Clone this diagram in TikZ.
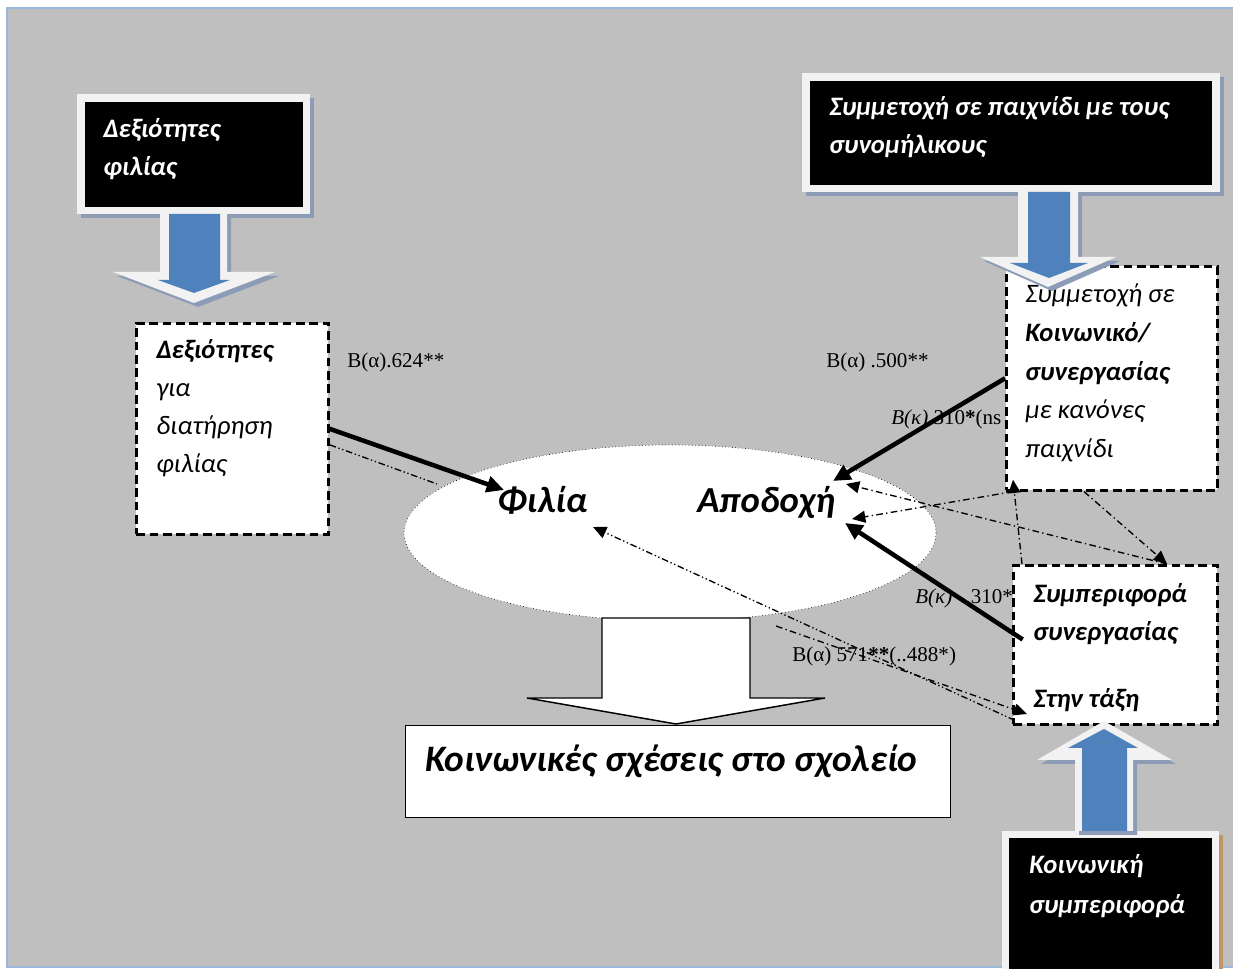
\documentclass[tikz,border=0pt]{standalone}
\usepackage{fontspec}
\setmainfont{Liberation Serif}
\newfontfamily\calib{Carlito}
\usetikzlibrary{arrows.meta,calc,shapes.geometric}
\definecolor{bggrey}{HTML}{BFBFBF}
\definecolor{frameblue}{HTML}{9BB7DB}
\definecolor{arrblue}{HTML}{4F81BD}
\definecolor{framew}{HTML}{F2F2F2}
\definecolor{shadowc}{HTML}{8D9CB6}
\definecolor{shadowbr}{HTML}{C0946A}
\tikzset{
  dbox/.style={draw=black, line width=2pt, dash pattern=on 6.5pt off 3.5pt, fill=white, inner sep=0pt, anchor=north west},
  wframe/.style={fill=framew, inner sep=0pt, anchor=north west},
  bframe/.style={fill=black, inner sep=0pt, anchor=north west},
  txt/.style={font=\calib\itshape\fontsize{20}{24}\selectfont, anchor=base west, inner sep=0pt},
  btxt/.style={font=\calib\bfseries\itshape\fontsize{20}{24}\selectfont, anchor=base west, inner sep=0pt},
  wtxt/.style={btxt, text=white},
  bigtxt/.style={font=\calib\bfseries\itshape\fontsize{27.5}{32}\selectfont, anchor=base west, inner sep=0pt},
  lab/.style={font=\fontsize{15.8}{18}\selectfont, anchor=base west, inner sep=0pt},
  strong/.style={line width=3.4pt, -{Triangle[length=13pt,width=12pt]}},
  dd/.style={line width=1pt, dash pattern=on 5pt off 2pt on 1pt off 2pt on 1pt off 2pt},
  dda/.style={dd, -{Triangle[length=10pt,width=9pt]}},
  da/.style={line width=1pt, dash pattern=on 5pt off 2.5pt on 1pt off 2.5pt, -{Triangle[length=10pt,width=9pt]}},
  blockw/.style={fill=framew},
  blockb/.style={fill=arrblue},
  blocks/.style={fill=shadowc}
}
\begin{document}
\begin{tikzpicture}[x=0.75pt,y=-0.75pt]
\useasboundingbox (0,0) rectangle (1233,969);
\clip (0,0) rectangle (1233,969);
\fill[white] (0,0) rectangle (1233,969);
\fill[bggrey] (7,8) rectangle (1245,967);
\draw[frameblue, line width=2.2pt] (1245,8) -- (7,8) -- (7,967) -- (1245,967);

% ellipse
\node[ellipse, draw, dotted, line width=0.5pt, fill=white, minimum width=399pt, minimum height=132pt] (ell) at (670,533) {};
\node[bigtxt] (phil) at (497,513) {Φιλία};
\node[bigtxt] (apod) at (697,513) {Αποδοχή};

% labels
\node[lab] (l1) at (347,368) {B(α).624**};
\node[lab] (l2) at (826,368) {B(α) .500**};
\node[lab] (l3) at (891,425) {\textit{B(κ)}.310\textbf{*}(ns};
\node[lab] (l4) at (915,604) {\textit{B(κ)}\hspace{10pt}.310*};
\node[lab] (l5) at (792,662) {B(α) 571\textbf{**}(..488*)};

% dashed boxes
\node[dbox, minimum width=144pt, minimum height=158.25pt] (lbox) at (135,322) {};
\node[btxt] (lb1) at (156,359) {Δεξιότητες};
\node[txt] (lb2) at (156,397) {για};
\node[txt] (lb3) at (156,435) {διατήρηση};
\node[txt] (lb4) at (156,473) {φιλίας};

\node[dbox, minimum width=158.25pt, minimum height=168pt] (rtbox) at (1005,265) {};
\node[txt] (rt1) at (1025,303) {Συμμετοχή σε};
\node[btxt] (rt2) at (1025,342) {Κοινωνικό/};
\node[btxt] (rt3) at (1025,381) {συνεργασίας};
\node[txt] (rt4) at (1025,419) {με κανόνες};
\node[txt] (rt5) at (1025,458) {παιχνίδι};

\node[dbox, minimum width=153pt, minimum height=119.25pt] (rmbox) at (1012,564) {};
\node[btxt] (rm1) at (1033,603) {Συμπεριφορά};
\node[btxt] (rm2) at (1033,641) {συνεργασίας};
\node[btxt] (rm3) at (1033,708) {Στην τάξη};

% top-left black box
\fill[shadowc] (81,98) rectangle (314,218);
\node[wframe, minimum width=174.75pt, minimum height=90pt] (tlf) at (77,94) {};
\node[bframe, minimum width=163.5pt, minimum height=78.75pt] (tlb) at (85,102) {};
\node[wtxt] (tl1) at (103,138) {Δεξιότητες};
\node[wtxt] (tl2) at (103,176) {φιλίας};
\begin{scope}[shift={(4,4)}]
\fill[blocks] (160,214) -- (227,214) -- (227,272) -- (275,272) -- (194,303) -- (113,272) -- (160,272) -- cycle;
\end{scope}
\fill[blockw] (160,214) -- (227,214) -- (227,272) -- (275,272) -- (194,303) -- (113,272) -- (160,272) -- cycle;
\fill[blockb] (169,214) -- (220,214) -- (220,280) -- (230,280) -- (194,293) -- (158,280) -- (169,280) -- cycle;

% top-right black box
\fill[shadowc] (806,77) rectangle (1224,196);
\node[wframe, minimum width=313.5pt, minimum height=89.25pt] (trf) at (802,73) {};
\node[bframe, minimum width=301.5pt, minimum height=78pt] (trb) at (810,81) {};
\node[wtxt] (tr1) at (829,116) {Συμμετοχή σε παιχνίδι με τους};
\node[wtxt] (tr2) at (829,154) {συνομήλικους};
\begin{scope}[shift={(4,4)}]
\fill[blocks] (1018,192) -- (1078,192) -- (1078,257) -- (1116,257) -- (1048,287) -- (980,257) -- (1018,257) -- cycle;
\end{scope}
\fill[blockw] (1018,192) -- (1078,192) -- (1078,257) -- (1116,257) -- (1048,287) -- (980,257) -- (1018,257) -- cycle;
\fill[blockb] (1028,192) -- (1070,192) -- (1070,263) -- (1088,263) -- (1049,278) -- (1010,263) -- (1028,263) -- cycle;

% bottom-right black box
\fill[shadowbr] (1006,835) rectangle (1223,990);
\node[wframe, minimum width=162.75pt, minimum height=120pt] (brf) at (1002,831) {};
\node[bframe, minimum width=152.25pt, minimum height=115pt] (brb) at (1009,838) {};
\node[wtxt] (br1) at (1029,874) {Κοινωνική};
\node[wtxt] (br2) at (1029,913) {συμπεριφορά};
\begin{scope}[shift={(4,4)}]
\fill[blocks] (1075,831) -- (1133,831) -- (1133,760) -- (1172,760) -- (1104,721) -- (1037,760) -- (1075,760) -- cycle;
\end{scope}
\fill[blockw] (1075,831) -- (1133,831) -- (1133,760) -- (1172,760) -- (1104,721) -- (1037,760) -- (1075,760) -- cycle;
\fill[blockb] (1082,831) -- (1127,831) -- (1127,748) -- (1138,748) -- (1104,729) -- (1068,748) -- (1082,748) -- cycle;

% block arrow to bottom box and bottom box
\draw[fill=white, line width=1.1pt] (602,618) -- (750,618) -- (750,698) -- (825,698) -- (676,724) -- (527,698) -- (602,698) -- cycle;
\node[draw, line width=1.1pt, fill=white, inner sep=0pt, anchor=north west, minimum width=408.75pt, minimum height=69pt] (sbox) at (405,725) {};
\node[font=\calib\bfseries\itshape\fontsize{28}{33}\selectfont, anchor=base west, inner sep=0pt] (stxt) at (425,772) {Κοινωνικές σχέσεις στο σχολείο};

% connector end points
\coordinate (fTip) at (504,490);
\coordinate (lEnd) at (437,484);
\coordinate (aTip1) at (833,481);
\coordinate (aTip2) at (845,523);
\coordinate (aTip3) at (846,484);
\coordinate (aTip4) at (852,519);
\coordinate (fTip2) at (593,527);
\coordinate (ellB) at (776,626);
\coordinate (tTip) at (1027,714);

% connectors
\draw[strong] (lbox.east) -- (fTip);
\draw[dd] ([yshift=-12pt]lbox.east) -- (lEnd);
\draw[strong] (rtbox.west) -- (aTip1);
\draw[strong] ([xshift=8pt,yshift=4pt]rmbox.west) -- (aTip2);
\draw[dda] ([shift={(2pt,4pt)}]rmbox.south west) -- (fTip2);
\draw[da] (ellB) -- (tTip);
\draw[da] ($(rmbox.north west)!0.75!(rmbox.north east)$) -- (aTip3);
\draw[da] ($(rtbox.south west)!0.37!(rtbox.south east)$) -- ($(rmbox.north west)!0.75!(rmbox.north east)$);
\draw[da] ([xshift=7.5pt]rmbox.north west) -- ([xshift=6pt,yshift=9pt]rtbox.south west);
\draw[da] ([xshift=6pt]rtbox.south west) -- (aTip4);
\end{tikzpicture}
\end{document}
